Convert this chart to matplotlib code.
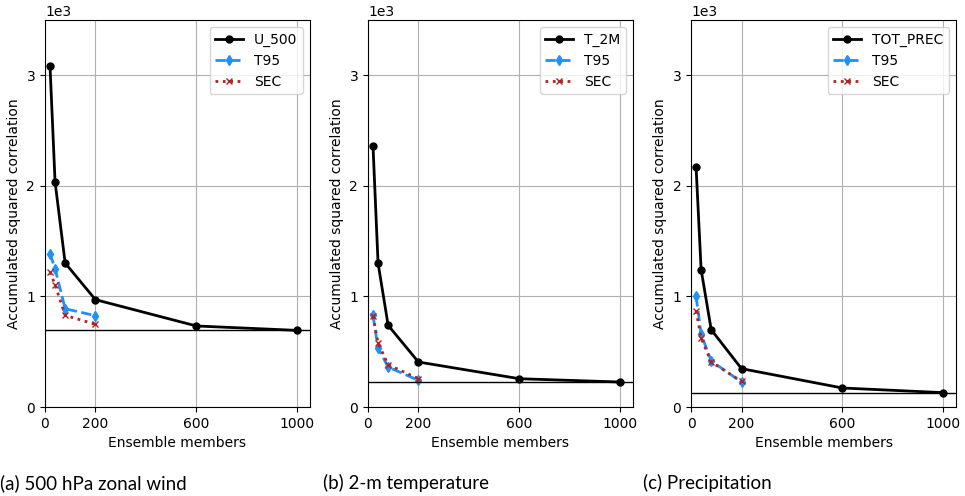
import matplotlib

matplotlib.use("Agg")
import matplotlib.pyplot as plt
from matplotlib.ticker import MultipleLocator, ScalarFormatter

# ensemble sizes
members_full = [20, 40, 80, 200, 600, 1000]
members_sub = [20, 40, 80, 200]

variables = ["U_500", "T_2M", "TOT_PREC"]
captions = ["(a) 500 hPa zonal wind", "(b) 2-m temperature", "(c) Precipitation"]

# accumulated squared correlation (raw)
raw_u500 = [3084, 2035, 1302, 971, 733, 693]
raw_t2m = [2361, 1302, 739, 407, 256, 226]
raw_prec = [2171, 1242, 699, 347, 172, 130]

# T95 localisation
t95_u500 = [1387, 1251, 889, 826]
t95_t2m = [829, 534, 362, 241]
t95_prec = [1001, 657, 416, 226]

# SEC
sec_u500 = [1221, 1106, 829, 748]
sec_t2m = [823, 579, 383, 256]
sec_prec = [868, 624, 407, 232]

raw_all = [raw_u500, raw_t2m, raw_prec]
t95_all = [t95_u500, t95_t2m, t95_prec]
sec_all = [sec_u500, sec_t2m, sec_prec]

fig = plt.figure(figsize=(9.65, 4.96), dpi=100)
lefts = [0.0466, 0.3813, 0.7161]
cap_x = [0.0, 0.3347, 0.6663]
width = 0.2746
bottom = 0.1794
height = 0.7802

for i in range(3):
    ax = fig.add_axes([lefts[i], bottom, width, height])
    ax.plot(members_full, raw_all[i], color="black", marker="o", markersize=5,
            linewidth=2, label=variables[i])
    ax.plot(members_sub, t95_all[i], color="#1E90FF", marker="d", markersize=5,
            linewidth=2, linestyle="--", label="T95")
    ax.plot(members_sub, sec_all[i], color="#B22222", marker="x", markersize=5,
            linewidth=2, linestyle=":", label="SEC")
    ax.axhline(raw_all[i][-1], color="black", linewidth=1)
    ax.set_xlim(0, 1050)
    ax.set_ylim(0, 3500)
    ax.set_xticks([0, 200, 600, 1000])
    ax.yaxis.set_major_locator(MultipleLocator(1000))
    fmt = ScalarFormatter()
    fmt.set_powerlimits((0, 0))
    ax.yaxis.set_major_formatter(fmt)
    ax.grid(True)
    ax.set_xlabel("Ensemble members")
    ax.set_ylabel("Accumulated squared correlation")
    ax.legend(loc="upper right")
    fig.text(cap_x[i], 0.014, captions[i], family="Lato", fontsize=13.5,
             ha="left", va="baseline")

fig.savefig("out.png", dpi=100)
